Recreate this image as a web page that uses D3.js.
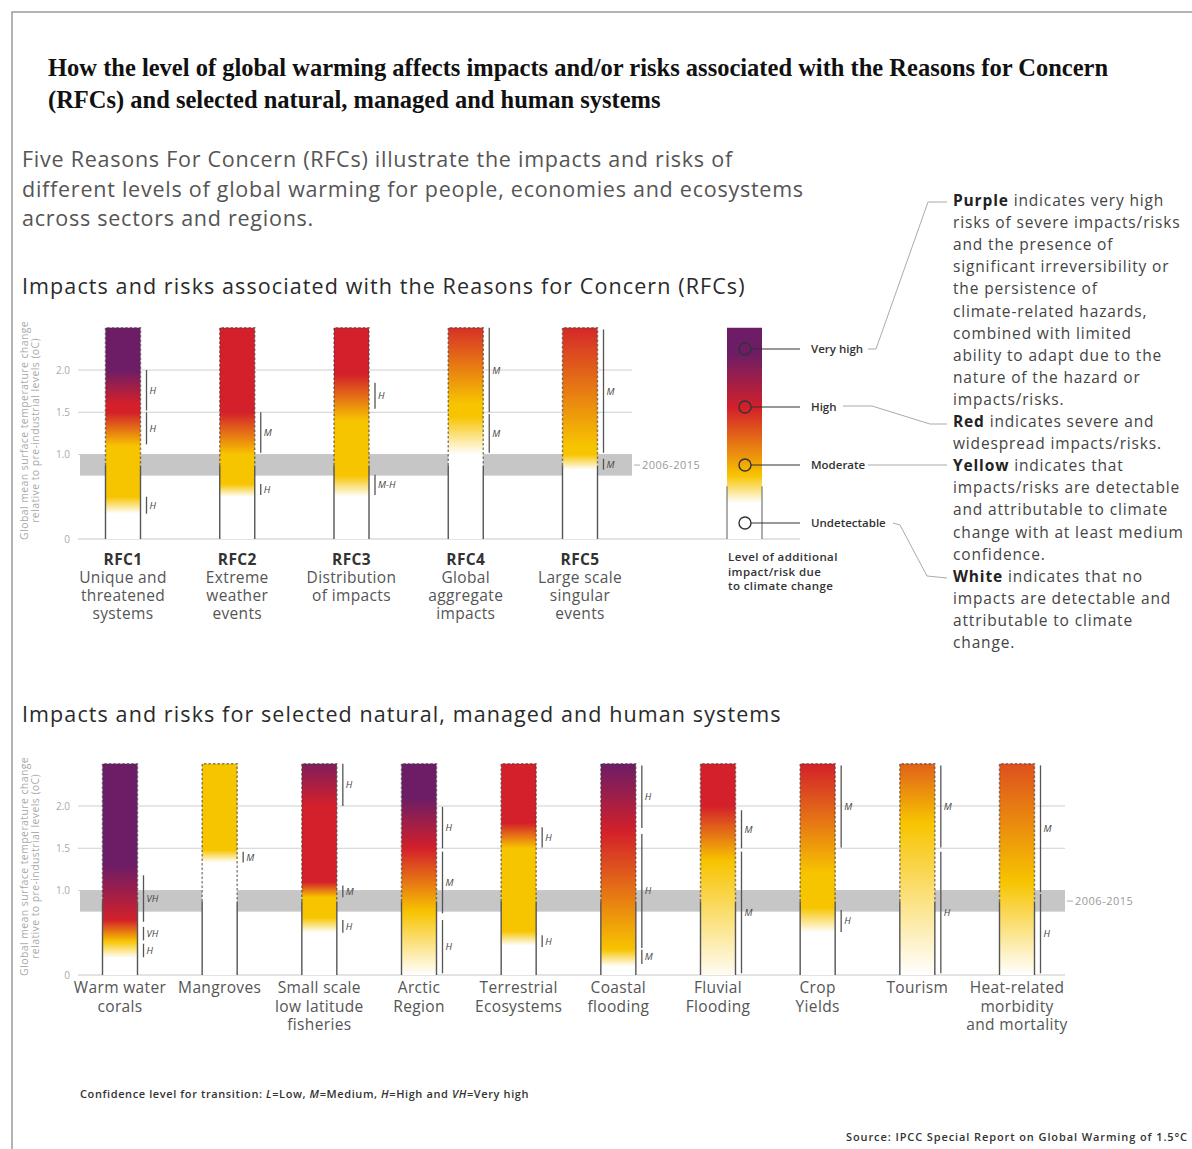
<!DOCTYPE html>
<html>
<head>
<meta charset="utf-8">
<script src="https://cdn.jsdelivr.net/npm/d3@7"></script>
<style>
body { margin: 0; background: #fff; }
svg { display: block; font-family: "Open Sans", sans-serif; }
</style>
</head>
<body>
<svg id="chart" width="1192" height="1149"></svg>
<script>
// risk levels, bottom to top
var riskLevels = ["Undetectable", "Moderate", "High", "Very high"];
var riskColors = ["#ffffff", "#f7c400", "#d3202a", "#6c1d66"];

var yTicks = [0, 1.0, 1.5, 2.0];
var barTop = 2.5;       // bars are drawn up to 2.5 degC
var observed = 0.87;    // solid bar edges up to this level
var band = [0.75, 1.0]; // 2006-2015 band

// Reasons for concern
var rfcNames = ["RFC1", "RFC2", "RFC3", "RFC4", "RFC5"];
var rfcLabels = [
	["Unique and", "threatened", "systems"],
	["Extreme", "weather", "events"],
	["Distribution", "of impacts"],
	["Global", "aggregate", "impacts"],
	["Large scale", "singular", "events"]
];
// gradient stops: [temperature, risk level]
var rfcStops = [
	[[0.3, 0], [0.5, 1], [1.1, 1], [1.5, 2], [1.6, 2], [2.0, 3]],
	[[0.5, 0], [0.65, 1], [1.0, 1], [1.5, 2]],
	[[0.5, 0], [0.75, 1], [1.4, 1], [1.95, 2]],
	[[1.0, 0], [1.45, 1], [1.6, 1], [2.5, 1.9]],
	[[0.82, 0], [1.0, 1], [1.1, 1], [2.5, 1.95]]
];
// confidence of transitions: [from, to, level]
var rfcConf = [
	[[0.3, 0.5, "H"], [1.12, 1.5, "H"], [1.52, 2.0, "H"]],
	[[0.52, 0.65, "H"], [1.02, 1.5, "M"]],
	[[0.52, 0.76, "M-H"], [1.54, 1.85, "H"]],
	[[1.02, 1.48, "M"], [1.5, 2.5, "M"]],
	[[0.82, 0.95, "M"], [1.02, 2.48, "M"]]
];

// natural, managed and human systems
var sysNames = ["Warm water corals", "Mangroves", "Small scale low latitude fisheries", "Arctic Region",
	"Terrestrial Ecosystems", "Coastal flooding", "Fluvial Flooding", "Crop Yields", "Tourism",
	"Heat-related morbidity and mortality"];
var sysLabels = [
	["Warm water", "corals"],
	["Mangroves"],
	["Small scale", "low latitude", "fisheries"],
	["Arctic", "Region"],
	["Terrestrial", "Ecosystems"],
	["Coastal", "flooding"],
	["Fluvial", "Flooding"],
	["Crop", "Yields"],
	["Tourism"],
	["Heat-related", "morbidity", "and mortality"]
];
var sysStops = [
	[[0.2, 0], [0.4, 1], [0.65, 2], [1.3, 3]],
	[[1.33, 0], [1.48, 1]],
	[[0.5, 0], [0.68, 1], [0.92, 1], [1.1, 2], [2.0, 2], [2.5, 2.8]],
	[[0.0, 0], [0.75, 1], [1.5, 2], [2.1, 3]],
	[[0.35, 0], [0.52, 1], [1.5, 1], [1.8, 2]],
	[[0.1, 0], [0.3, 1], [1.7, 2], [2.5, 3]],
	[[0.0, 0.05], [1.35, 1], [2.0, 2]],
	[[0.5, 0], [0.8, 1], [1.2, 1], [2.5, 2]],
	[[0.0, 0], [1.8, 1], [2.5, 1.6]],
	[[0.0, 0], [1.1, 1], [2.5, 1.7]]
];
var sysConf = [
	[[0.21, 0.37, "H"], [0.41, 0.57, "VH"], [0.63, 1.18, "VH"]],
	[[1.33, 1.46, "M"]],
	[[0.5, 0.65, "H"], [0.92, 1.06, "M"], [2.0, 2.5, "H"]],
	[[0.02, 0.65, "H"], [0.73, 1.46, "M"], [1.5, 1.99, "H"]],
	[[0.33, 0.47, "H"], [1.51, 1.75, "H"]],
	[[0.13, 0.3, "M"], [0.32, 1.67, "H"], [1.74, 2.48, "H"]],
	[[0.02, 1.46, "M"], [1.5, 1.95, "M"]],
	[[0.51, 0.77, "H"], [1.51, 2.48, "M"]],
	[[0.02, 1.46, "H"], [1.51, 2.48, "M"]],
	[[0.02, 0.96, "H"], [0.98, 2.48, "M"]]
];

// legend bar stops: [fraction of bar height, risk level]
var legendStops = [[0.17, 0], [0.3, 1], [0.62, 2], [0.88, 3]];

var legendNotes = [
	["Purple", " indicates very high"], ["", "risks of severe impacts/risks"], ["", "and the presence of"],
	["", "significant irreversibility or"], ["", "the persistence of"], ["", "climate-related hazards,"],
	["", "combined with limited"], ["", "ability to adapt due to the"], ["", "nature of the hazard or"],
	["", "impacts/risks."],
	["Red", " indicates severe and"], ["", "widespread impacts/risks."],
	["Yellow", " indicates that"], ["", "impacts/risks are detectable"], ["", "and attributable to climate"],
	["", "change with at least medium"], ["", "confidence."],
	["White", " indicates that no"], ["", "impacts are detectable and"], ["", "attributable to climate"],
	["", "change."]
];

var titleLines = ["How the level of global warming affects impacts and/or risks associated with the Reasons for Concern",
	"(RFCs) and selected natural, managed and human systems"];
var introLines = ["Five Reasons For Concern (RFCs) illustrate the impacts and risks of",
	"different levels of global warming for people, economies and ecosystems",
	"across sectors and regions."];

var svg = d3.select("#chart");
var defs = svg.append("defs");
var riskColor = d3.scaleLinear().domain([0, 1, 2, 3]).range(riskColors).interpolate(d3.interpolateRgb);
var pxPerDeg = 84.5;
var barW = 35;

// frame
svg.append("path").attr("d", "M12,1149 V12 H1192").attr("fill", "none")
	.attr("stroke", "#9a9a9a").attr("stroke-width", 1.5);

svg.selectAll(".title").data(titleLines).enter().append("text")
	.attr("x", 48).attr("y", function(d, i) { return 76 + i * 32; })
	.style("font-family", "'Liberation Serif', serif").style("font-weight", "bold")
	.style("font-size", "24.5px").attr("fill", "#111").text(function(d) { return d; });

svg.selectAll(".intro").data(introLines).enter().append("text")
	.attr("x", 22).attr("y", function(d, i) { return 167 + i * 29.5; })
	.style("font-size", "21.5px").style("letter-spacing", "0.75px").attr("fill", "#555")
	.text(function(d) { return d; });

svg.append("text").attr("x", 22).attr("y", 294).style("font-size", "21.5px").style("letter-spacing", "1.1px")
	.attr("fill", "#2a2a2a").text("Impacts and risks associated with the Reasons for Concern (RFCs)");
svg.append("text").attr("x", 22).attr("y", 722).style("font-size", "21.5px").style("letter-spacing", "1.1px")
	.attr("fill", "#2a2a2a").text("Impacts and risks for selected natural, managed and human systems");

function drawPanel(opt) {
	var y = d3.scaleLinear().domain([0, barTop]).range([opt.bottom, opt.bottom - barTop * pxPerDeg]);
	var x = d3.scalePoint().domain(opt.names).range(opt.xRange);
	var g = svg.append("g");

	// grid
	g.selectAll(".grid").data(yTicks.filter(function(d) { return d > 0; })).enter().append("line")
		.attr("x1", 78).attr("x2", opt.gridRight)
		.attr("y1", function(d) { return y(d); }).attr("y2", function(d) { return y(d); })
		.attr("stroke", "#cfcfcf").attr("stroke-width", 1);

	// 2006-2015 band
	g.append("rect").attr("x", 80).attr("width", opt.gridRight - 80)
		.attr("y", y(band[1])).attr("height", y(band[0]) - y(band[1])).attr("fill", "#c6c6c6");
	var bandMid = y((band[0] + band[1]) / 2);
	g.append("line").attr("x1", opt.gridRight + 2).attr("x2", opt.gridRight + 8)
		.attr("y1", bandMid).attr("y2", bandMid).attr("stroke", "#aaa");
	g.append("text").attr("x", opt.gridRight + 10).attr("y", bandMid + 4)
		.style("font-size", "11px").style("letter-spacing", "0.5px").attr("fill", "#9a9a9a").text("2006-2015");

	// baseline
	g.append("line").attr("x1", 78).attr("x2", opt.zeroRight).attr("y1", y(0)).attr("y2", y(0))
		.attr("stroke", "#c8c8c8").attr("stroke-width", 1.2);

	// axis
	var axis = d3.axisLeft(y).tickValues(yTicks)
		.tickFormat(function(d) { return d === 0 ? "0" : d.toFixed(1); })
		.tickSize(0).tickPadding(0);
	var ax = g.append("g").attr("transform", "translate(70,0)").call(axis);
	ax.select(".domain").remove();
	ax.selectAll("text").style("font-size", "10px").style("font-family", "'Open Sans', sans-serif")
		.attr("fill", "#aaa");

	var ty = g.append("g").attr("transform", "translate(31," + (y(0) + y(barTop) - 6) / 2 + ") rotate(-90)");
	ty.append("text").attr("text-anchor", "middle").attr("y", -3).style("font-size", "10.5px")
		.style("letter-spacing", "0.4px").attr("fill", "#aaa").text("Global mean surface temperature change");
	ty.append("text").attr("text-anchor", "middle").attr("y", 7.5).style("font-size", "10.5px")
		.style("letter-spacing", "0.4px").attr("fill", "#aaa").text("relative to pre-industrial levels (oC)");

	// bars
	opt.names.forEach(function(name, i) {
		var cx = x(name), left = cx - barW / 2, right = cx + barW / 2;
		var gid = opt.id + i;
		var grad = defs.append("linearGradient").attr("id", gid).attr("gradientUnits", "userSpaceOnUse")
			.attr("x1", 0).attr("x2", 0).attr("y1", y(0)).attr("y2", y(barTop));
		opt.stops[i].forEach(function(s) {
			grad.append("stop").attr("offset", s[0] / barTop).attr("stop-color", riskColor(s[1]));
		});
		g.append("rect").attr("x", left).attr("y", y(barTop)).attr("width", barW)
			.attr("height", y(0) - y(barTop)).attr("fill", "url(#" + gid + ")");

		g.append("path").attr("d", "M" + left + "," + y(0) + "V" + y(observed) + "M" + right + "," + y(0) + "V" + y(observed))
			.attr("stroke", "#555").attr("stroke-width", 1.4).attr("fill", "none");
		g.append("path").attr("d", "M" + left + "," + y(observed) + "V" + y(barTop) + "H" + right + "V" + y(observed))
			.attr("stroke", "rgba(60,60,60,0.6)").attr("stroke-width", 1.5)
			.attr("stroke-dasharray", "2.5,2").attr("fill", "none");

		// confidence of transitions
		opt.conf[i].forEach(function(c) {
			g.append("line").attr("x1", right + 6).attr("x2", right + 6)
				.attr("y1", y(c[0])).attr("y2", y(c[1])).attr("stroke", "#555").attr("stroke-width", 1.3);
			g.append("text").attr("x", right + 9).attr("y", y((c[0] + c[1]) / 2) + 3.5)
				.style("font-size", "9.5px").style("font-style", "italic").attr("fill", "#444").text(c[2]);
		});

		// category label
		var t = g.append("text").attr("text-anchor", "middle").style("font-size", "15.5px")
			.style("letter-spacing", "0.35px").attr("fill", "#555");
		var lines = opt.bold ? [opt.names[i]].concat(opt.labels[i]) : opt.labels[i];
		lines.forEach(function(l, j) {
			t.append("tspan").attr("x", cx).attr("y", opt.labelY + j * opt.lineH)
				.style("font-weight", opt.bold && j === 0 ? "bold" : "normal")
				.attr("fill", opt.bold && j === 0 ? "#333" : "#555").text(l);
		});
	});
	return y;
}

var y1 = drawPanel({ id: "rfc", names: rfcNames, labels: rfcLabels, stops: rfcStops, conf: rfcConf,
	bottom: 539, xRange: [123, 580], gridRight: 632, zeroRight: 800, labelY: 565, lineH: 18, bold: true });

drawPanel({ id: "sys", names: sysNames, labels: sysLabels, stops: sysStops, conf: sysConf,
	bottom: 975, xRange: [120, 1017], gridRight: 1065, zeroRight: 1065, labelY: 993, lineH: 18.5, bold: false });

// legend
var lg = svg.append("g");
var lx = 727, lTop = y1(barTop), lBottom = y1(0);
var lgrad = defs.append("linearGradient").attr("id", "legendGrad").attr("x1", 0).attr("x2", 0).attr("y1", 1).attr("y2", 0);
legendStops.forEach(function(s) {
	lgrad.append("stop").attr("offset", s[0]).attr("stop-color", riskColor(s[1]));
});
lg.append("rect").attr("x", lx).attr("y", lTop).attr("width", barW).attr("height", lBottom - lTop)
	.attr("fill", "url(#legendGrad)");
var ly = d3.scaleLinear().domain([0, 1]).range([lBottom, lTop]);
lg.append("path").attr("d", "M" + lx + "," + lBottom + "V" + ly(0.25) + "M" + (lx + barW) + "," + lBottom + "V" + ly(0.25))
	.attr("stroke", "#777").attr("stroke-width", 1.2);

var levelY = d3.scalePoint().domain(riskLevels).range([523, 349]);
riskLevels.forEach(function(lv) {
	var cy = levelY(lv);
	lg.append("circle").attr("cx", 745).attr("cy", cy).attr("r", 6)
		.attr("fill", lv === "Undetectable" ? "#fff" : "none").attr("stroke", "#333").attr("stroke-width", 1.4);
	lg.append("line").attr("x1", 751).attr("x2", 800).attr("y1", cy).attr("y2", cy)
		.attr("stroke", "#333").attr("stroke-width", 1.2);
	lg.append("text").attr("x", 811).attr("y", cy + 4).style("font-size", "11.5px").style("font-weight", 600)
		.attr("fill", "#333").text(lv);
});

// connectors to the notes
var connectors = [
	[[868, 349], [876, 349], [928, 202], [947, 202]],
	[[843, 406], [872, 406], [930, 424], [947, 424]],
	[[868, 465], [947, 465]],
	[[893, 523], [900, 525], [927, 576], [947, 578]]
];
lg.selectAll(".conn").data(connectors).enter().append("path")
	.attr("d", d3.line()).attr("fill", "none").attr("stroke", "#a0a0a0").attr("stroke-width", 0.9);

["Level of additional", "impact/risk due", "to climate change"].forEach(function(l, i) {
	lg.append("text").attr("x", 728).attr("y", 561 + i * 14.5).style("font-size", "11.5px")
		.style("letter-spacing", "0.4px").style("font-weight", 600).attr("fill", "#333").text(l);
});

// notes on the right
var notes = svg.append("text").style("font-size", "15.5px").style("letter-spacing", "0.85px").attr("fill", "#444");
legendNotes.forEach(function(n, i) {
	var line = notes.append("tspan").attr("x", 953).attr("y", 206 + i * 22.1);
	if (n[0]) {
		line.style("font-weight", "bold").attr("fill", "#222").text(n[0]);
		notes.append("tspan").text(n[1]);
	} else {
		line.text(n[1]);
	}
});

// footer
var foot = svg.append("text").attr("x", 80).attr("y", 1098).style("font-size", "11px")
	.style("letter-spacing", "0.6px").style("font-weight", 600).attr("fill", "#333");
[["Confidence level  for transition: ", false], ["L", true], ["=Low, ", false], ["M", true], ["=Medium, ", false],
	["H", true], ["=High and ", false], ["VH", true], ["=Very high", false]].forEach(function(p) {
	foot.append("tspan").style("font-style", p[1] ? "italic" : "normal").text(p[0]);
});
svg.append("text").attr("x", 1188).attr("y", 1141).attr("text-anchor", "end").style("font-size", "11px")
	.style("letter-spacing", "0.9px").style("font-weight", 600).attr("fill", "#333")
	.text("Source: IPCC Special Report on Global Warming of 1.5°C");
</script>
</body>
</html>
